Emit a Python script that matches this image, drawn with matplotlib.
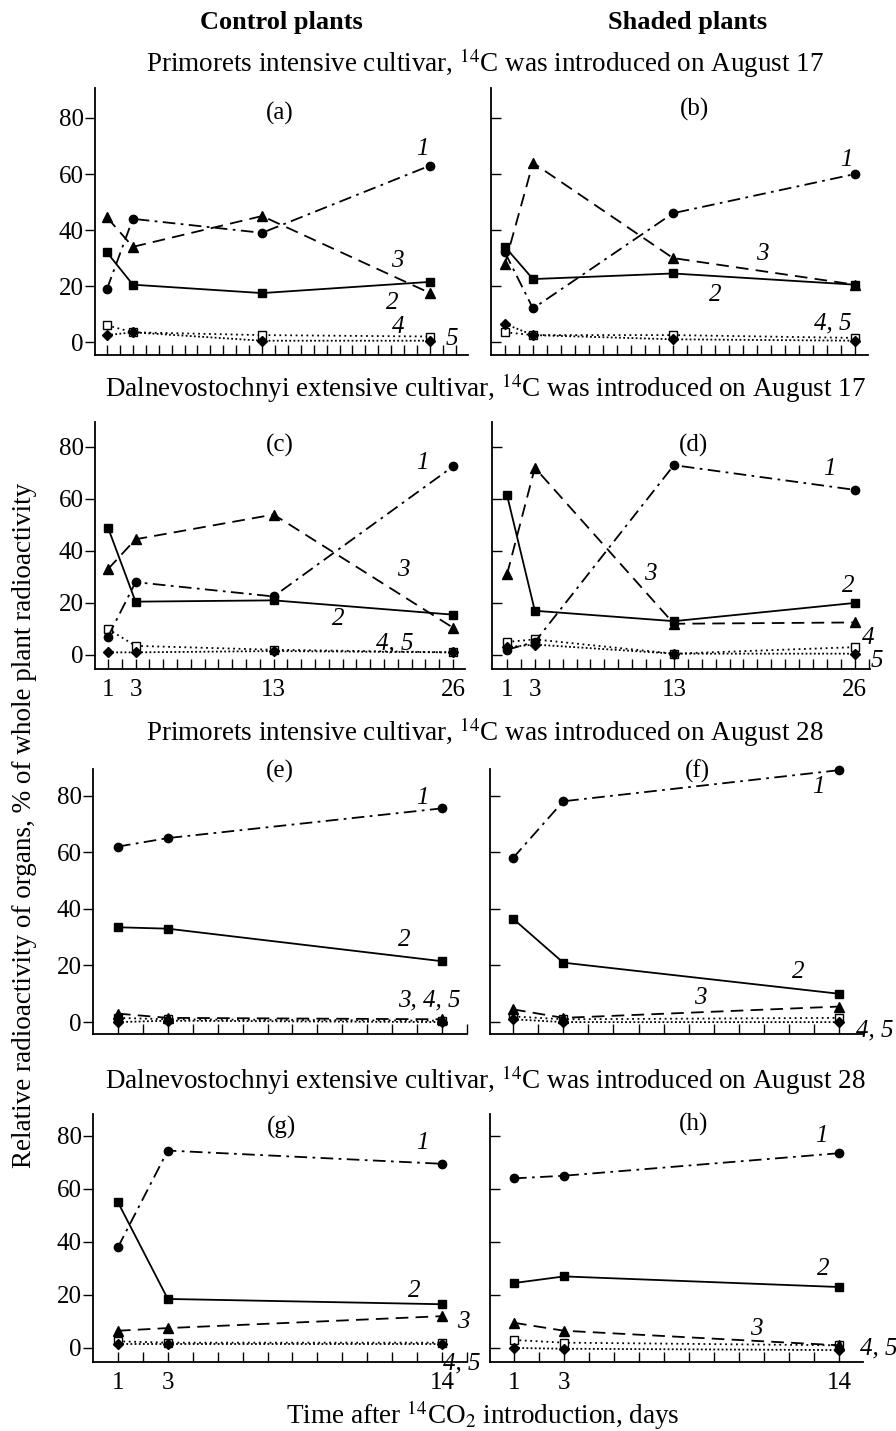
import matplotlib.pyplot as plt

plt.rcParams['font.family'] = ['Liberation Serif', 'DejaVu Serif']
plt.rcParams['mathtext.fontset'] = 'stix'

# days after 14CO2 introduction
days_aug17 = [1, 3, 13, 26]
days_aug28 = [1, 3, 14]

# each panel: series 1..5 (% of whole plant radioactivity)
panel_a = [[19, 44, 39, 63], [32, 20.5, 17.5, 21.5], [44.5, 34, 45, 17.5],
           [6, 3.5, 2.5, 2], [2.5, 3.5, 0.5, 0.5]]
panel_b = [[32, 12, 46, 60], [34, 22.5, 24.5, 20.5], [28, 64, 30, 20.5],
           [3.5, 2.5, 2.5, 1.5], [6.5, 2.5, 1, 0.5]]
panel_c = [[7, 28, 22.5, 72.5], [49, 20.5, 21, 15.5], [33, 44.5, 54, 10.5],
           [10, 3.5, 2, 1], [1, 1, 1.5, 1]]
panel_d = [[2, 5, 73, 63.5], [61.5, 17, 13, 20], [31, 72, 12, 12.5],
           [5, 6, 0.5, 3], [3, 4, 0.5, 0.5]]
panel_e = [[62, 65, 75.5], [33.5, 33, 21.5], [3, 1.5, 1],
           [1.5, 1, 0.5], [0, 0.5, 0]]
panel_f = [[58, 78, 89], [36.5, 21, 10], [4.5, 1.5, 5.5],
           [2, 1, 1.5], [1, 0, 0]]
panel_g = [[38, 74.5, 69.5], [55, 18.5, 16.5], [6.5, 7.5, 12],
           [2.5, 2, 2], [1.5, 1.5, 1.5]]
panel_h = [[64, 65, 73.5], [24.5, 27, 23], [9.5, 6.5, 1],
           [3, 2, 1], [0, -0.3, -0.8]]

row_titles = ['Primorets intensive cultivar, $^{14}$C was introduced on August 17',
              'Dalnevostochnyi extensive cultivar, $^{14}$C was introduced on August 17',
              'Primorets intensive cultivar, $^{14}$C was introduced on August 28',
              'Dalnevostochnyi extensive cultivar, $^{14}$C was introduced on August 28']

W, H = 896, 1431
fig = plt.figure(figsize=(W / 100, H / 100), dpi=100)

styles = [
    dict(ls=(0, (7, 3, 1.5, 3)), marker='o', mfc='k', ms=6),
    dict(ls='-', marker='s', mfc='k', ms=6),
    dict(ls=(0, (7, 4)), marker='^', mfc='k', ms=6.5),
    dict(ls=(0, (1, 2)), marker='s', mfc='white', ms=6),
    dict(ls=(0, (1, 1.3)), marker='D', mfc='k', ms=5.5),
]
draw_order = [3, 4, 2, 1, 0]

# (name, data, days, box px (x0, x1, ytop, ybot), xlim, ylim, left?, show x labels?, letter pos)
panels = [
    ('a', panel_a, days_aug17, (95, 468, 88, 355), (0.07, 28.94), (-4.6, 90.7), True, False, (0.496, 0.906)),
    ('b', panel_b, days_aug17, (491, 868, 88, 355), (0.0, 26.93), (-4.6, 90.7), False, False, (0.541, 0.918)),
    ('c', panel_c, days_aug17, (95, 465, 422, 669), (0.06, 26.87), (-5.4, 89.6), True, True, (0.5, 0.907)),
    ('d', panel_d, days_aug17, (492, 870, 422, 669), (-0.08, 27.1), (-5.4, 89.6), False, True, (0.534, 0.907)),
    ('e', panel_e, days_aug28, (93, 467, 769, 1034), (0.0, 15.0), (-4.2, 89.4), True, False, (0.5, 0.99)),
    ('f', panel_f, days_aug28, (490, 863, 769, 1034), (0.08, 14.94), (-4.2, 89.4), False, False, (0.555, 0.99)),
    ('g', panel_g, days_aug28, (93, 467, 1114, 1362), (0.0, 15.0), (-5.3, 88.3), True, True, (0.503, 0.944)),
    ('h', panel_h, days_aug28, (490, 863, 1114, 1362), (0.04, 14.96), (-5.3, 88.3), False, True, (0.547, 0.956)),
]

curve_labels = {
    'a': [('1', 25.4, 69), ('3', 23.5, 29), ('2', 23.1, 14), ('4', 23.5, 5.4), ('5', 27.7, 1.2)],
    'b': [('1', 25.4, 65), ('3', 19.4, 31.3), ('2', 16, 16.7), ('4, 5', 24.4, 6.5)],
    'c': [('1', 23.8, 74), ('3', 22.4, 32.5), ('2', 17.7, 13.7), ('4, 5', 21.8, 4.6)],
    'd': [('1', 24.2, 71.4), ('3', 11.3, 31), ('2', 25.5, 26.4), ('4', 27.0, 6.5), ('5', 27.6, -2.3)],
    'e': [('1', 13.2, 79), ('2', 12.5, 29), ('3, 4, 5', 13.5, 7.8)],
    'f': [('1', 13.15, 83), ('2', 12.35, 17.7), ('3', 8.45, 8.5), ('4, 5', 15.4, -2.8)],
    'g': [('1', 13.2, 77.5), ('2', 12.9, 21.6), ('3', 14.85, 9.8), ('4, 5', 14.8, -6)],
    'h': [('1', 13.3, 80), ('2', 13.35, 29.7), ('3', 10.7, 7.2), ('4, 5', 15.6, 0)],
}

for name, data, days, box, xlim, ylim, left, xlab, lpos in panels:
    x0, x1, yt, yb = box
    ax = fig.add_axes([x0 / W, 1 - yb / H, (x1 - x0) / W, (yb - yt) / H])
    for i in draw_order:
        st = styles[i]
        ax.plot(days, data[i], color='k', lw=1.3, ls=st['ls'], marker=st['marker'],
                mfc=st['mfc'], mec='k', mew=1.0, ms=st['ms'], clip_on=False)
    ax.set_xlim(*xlim)
    ax.set_ylim(*ylim)
    for s in ['top', 'right']:
        ax.spines[s].set_visible(False)
    for s in ['left', 'bottom']:
        ax.spines[s].set_linewidth(1.3)
    ticks = list(range(1, int(xlim[1]) + 1))
    ax.set_xticks(ticks)
    if xlab:
        ax.set_xticklabels([str(t) if t in days else '' for t in ticks])
    else:
        ax.set_xticklabels([])
    ax.tick_params(axis='x', direction='in', length=7, width=1.0, labelsize=18, pad=7)
    ax.set_yticks([0, 20, 40, 60, 80])
    if left:
        ax.tick_params(axis='y', direction='out', length=7, width=1.0, labelsize=18, pad=1)
    else:
        ax.tick_params(axis='y', direction='in', length=7, width=1.0, labelleft=False)
    ax.text(lpos[0], lpos[1], '(' + name + ')', transform=ax.transAxes,
            ha='center', va='center', fontsize=18)
    for txt, x, y in curve_labels[name]:
        ax.text(x, y, txt, ha='center', va='center', fontsize=18, style='italic')

fig.text(281 / W, 1 - 22 / H, 'Control plants', ha='center', va='center',
         fontsize=19, fontweight='bold')
fig.text(688 / W, 1 - 22 / H, 'Shaded plants', ha='center', va='center',
         fontsize=19, fontweight='bold')
for t, y in zip(row_titles, [63, 388, 732, 1080]):
    fig.text(485 / W, 1 - y / H, t, ha='center', va='center', fontsize=19.5)

fig.text(25 / W, 1 - 825 / H,
         'Relative radioactivity of organs, % of whole plant radioactivity',
         rotation=90, ha='center', va='center', fontsize=19.5)
fig.text(483 / W, 1 - 1415 / H, 'Time after $^{14}$CO$_2$ introduction, days',
         ha='center', va='center', fontsize=19.5)

fig.savefig('out.png', dpi=100)
